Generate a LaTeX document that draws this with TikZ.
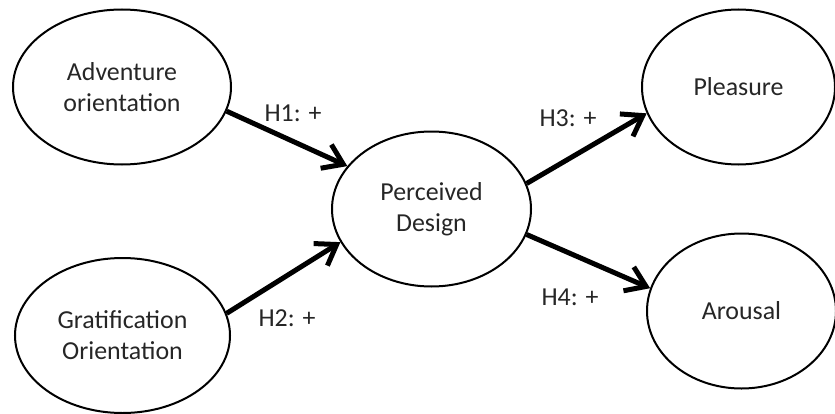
\documentclass[tikz,border=0pt]{standalone}
\usepackage{fontspec}
\setmainfont{Carlito}
\usetikzlibrary{arrows.meta,shapes.geometric}

\begin{document}
\begin{tikzpicture}[x=1bp,y=1bp,>={Straight Barb[length=19bp,width=26bp]},
  construct/.style={ellipse,draw,line width=2bp,inner sep=0pt,align=center,
    text=black!85,font=\fontsize{26}{31}\selectfont,minimum height=155bp},
  hyp/.style={text=black!85,font=\fontsize{26}{31}\selectfont,inner sep=0pt}]

\useasboundingbox (0,0) rectangle (835,413);

\node[construct,minimum width=218bp]   (adv)   at (122,326)     {Adventure\\orientation};
\node[construct,minimum width=215bp]   (grat)  at (122.5,77.5)  {Gratification\\Orientation};
\node[construct,minimum width=199bp]   (pd)    at (431.5,204)   {Perceived\\Design};
\node[construct,minimum width=193bp]   (pleas) at (738.5,326)   {Pleasure};
\node[construct,minimum width=189bp]   (arous) at (741.5,102)   {Arousal};

\node[hyp] (h1) at (293,300) {H1: +};
\node[hyp] (h2) at (287,95)  {H2: +};
\node[hyp] (h3) at (568,295) {H3: +};
\node[hyp] (h4) at (570,116) {H4: +};

	\path[->,line width=5bp] (adv.-13)  edge (pd.153)
							(grat.12)  edge (pd.200)
							(pd.15)    edge (pleas.196)
							(pd.-15)   edge (arous.166);

\end{tikzpicture}
\end{document}
